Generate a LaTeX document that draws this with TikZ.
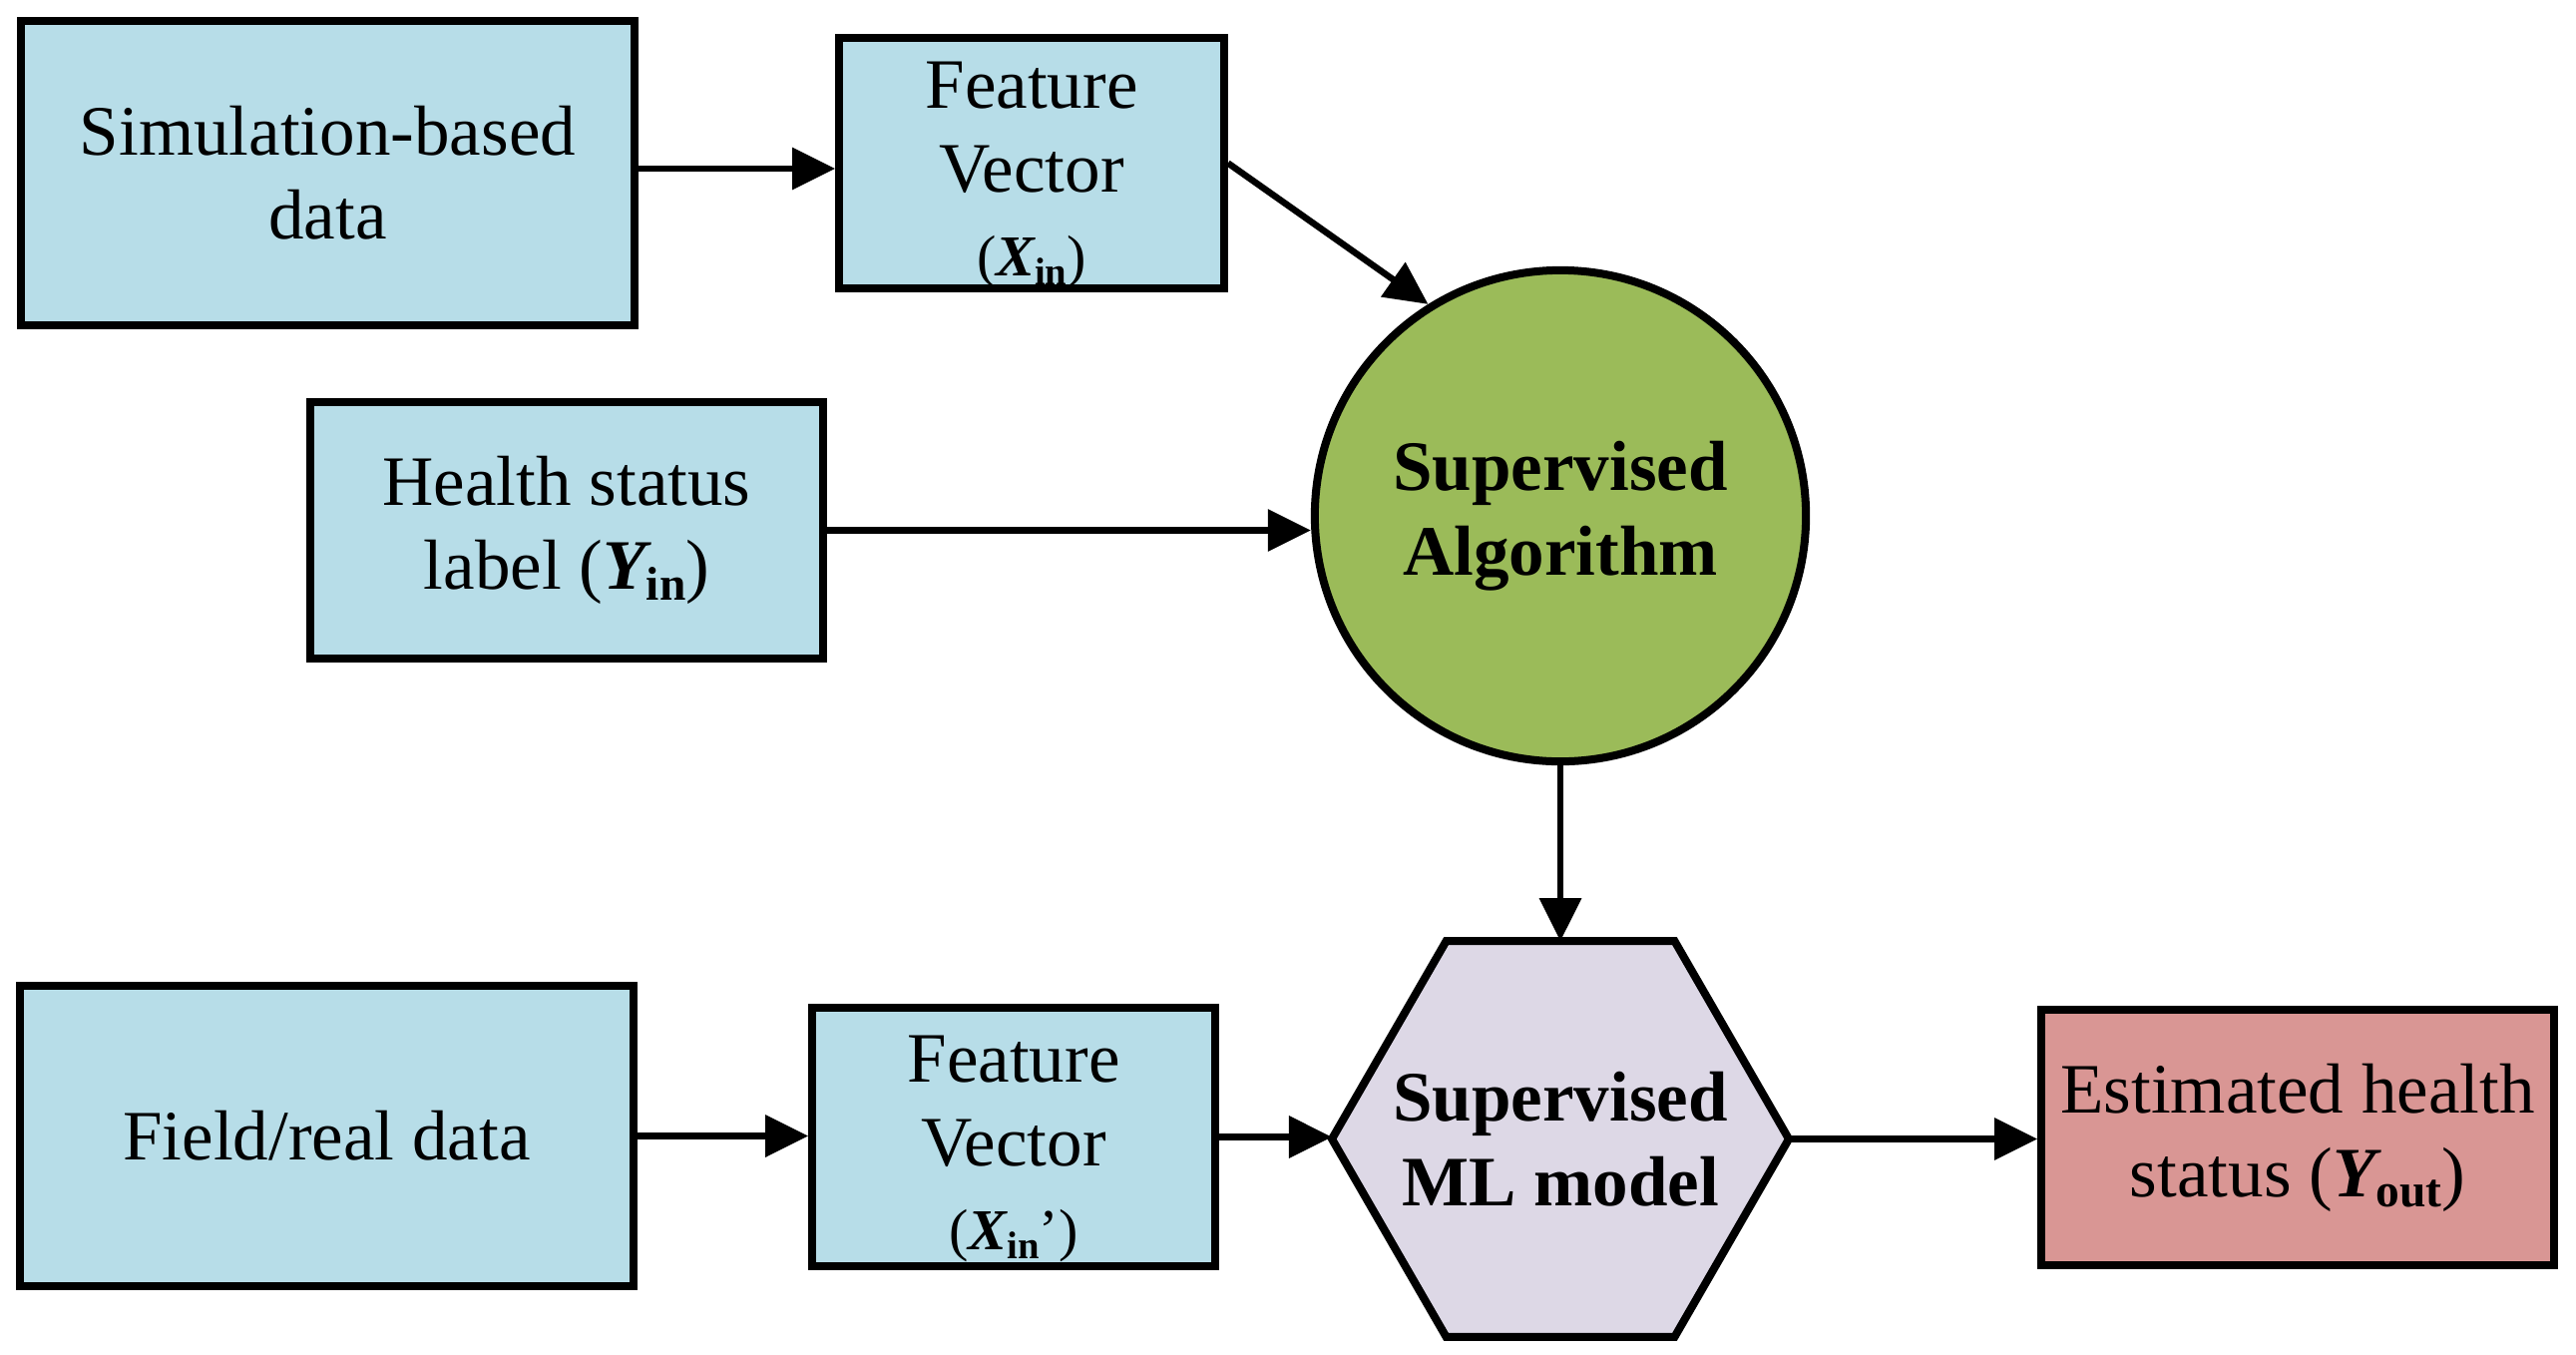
\documentclass[tikz,border=0pt]{standalone}
\usepackage{fontspec}
\setmainfont{Liberation Serif}
\usetikzlibrary{arrows.meta}
\definecolor{boxblue}{HTML}{B7DDE8}
\definecolor{algreen}{HTML}{9BBB59}
\definecolor{hexlav}{HTML}{DDD8E6}
\definecolor{estred}{HTML}{D99694}
\newcommand{\lowsub}[2]{\raisebox{-0.15em}{\fontsize{#1}{#1}\selectfont\bfseries #2}}
\newcommand{\bivar}[1]{{\bfseries\itshape #1}}
\begin{document}
\begin{tikzpicture}[x=0.01cm,y=-0.01cm,
  blockbox/.style={draw=black,line width=0.75mm,fill=boxblue,align=center,inner sep=0pt,font=\fontsize{20.2}{23.9}\selectfont},
  boldshape/.style={inner sep=0pt,align=center,font=\fontsize{20.2}{24.3}\selectfont\bfseries},
  arr/.style={line width=0.65mm,-{Triangle[length=4.3mm,width=4.1mm]}}]
\useasboundingbox (0,0) rectangle (2582,1357);

\node[blockbox,minimum width=6.15cm,minimum height=3.05cm] (sim) at (328.5,173.5) {Simulation-based\\data};
\node[blockbox,minimum width=3.86cm,minimum height=2.49cm] (fv1) at (1034,163.5)
  {\rule{0pt}{20pt}Feature\\Vector\\{\fontsize{16.5}{16.5}\selectfont(\bivar{X}\lowsub{11}{in})}};
\node[blockbox,minimum width=5.14cm,minimum height=2.57cm] (health) at (568,531.5)
  {Health status\\label (\bivar{Y}\lowsub{13.5}{in})};
\node[boldshape,draw=black,line width=0.8mm,fill=algreen,circle,minimum size=4.92cm] (alg) at (1564,517)
  {Supervised\\Algorithm};
\node[blockbox,minimum width=6.15cm,minimum height=3.01cm] (field) at (327.5,1138.5) {Field/real data};
\node[blockbox,minimum width=4.04cm,minimum height=2.59cm] (fv2) at (1016,1139.5)
  {\rule{0pt}{20pt}Feature\\Vector\\{\fontsize{16.5}{16.5}\selectfont(\bivar{X}\lowsub{11}{in}’)}};

% hexagon
\coordinate (hexL) at (1335,1141.5);
\coordinate (hexR) at (1793,1141.5);
\coordinate (hexT) at (1564,943.2);
\draw[line width=0.8mm,fill=hexlav] (hexL) -- (1449.5,943.2) -- (1678.5,943.2) -- (hexR)
  -- (1678.5,1339.8) -- (1449.5,1339.8) -- cycle;
\node[boldshape] (hex) at (1564,1141.5) {Supervised\\ML model};

\node[blockbox,fill=estred,minimum width=5.14cm,minimum height=2.56cm] (est) at (2303,1140)
  {Estimated health\\status (\bivar{Y}\lowsub{13.5}{out})};

\draw[arr] (sim.east |- 0,169) -- (fv1.west |- 0,169);
\draw[arr] (fv1.east) -- (alg.122);
\draw[arr] (health.east) -- (health.east -| alg.west);
\draw[arr] (alg.south) -- (hexT);
\draw[arr] (field.east) -- (field.east -| fv2.west);
\draw[arr] (fv2.east) -- (fv2.east -| hexL);
\draw[arr] (hexR) -- (hexR -| est.west);
\end{tikzpicture}
\end{document}
